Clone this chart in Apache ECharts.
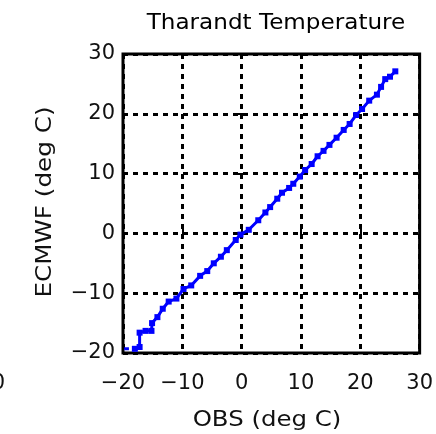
<!DOCTYPE html>
<html>
<head>
<meta charset="utf-8">
<script src="https://cdn.jsdelivr.net/npm/echarts@6/dist/echarts.min.js"></script>
<style>html,body{margin:0;padding:0;background:#fff}#c{width:436px;height:434px}</style>
</head>
<body>
<div id="c"></div>
<script>
const titleText = 'Tharandt Temperature';
const xName = 'OBS (deg C)';
const yName = 'ECMWF (deg C)';
const xTicks = [-20, -10, 0, 10, 20, 30];
const yTicks = [-20, -10, 0, 10, 20, 30];
// isolated low fragment
const lowObs = [-19.8, -19.0];
const lowEcm = [-19.3, -19.3];
// main sorted OBS vs ECMWF trace
const obs = [-18.0,-17.2,-17.2,-16.2,-15.2,-15.1,-14.2,-13.3,-12.3,-11.0,-9.8,-8.5,-7.0,-5.8,-4.7,-3.5,-2.5,-1.0,-0.2,1.2,2.8,4.0,4.8,6.0,6.8,8.0,8.7,9.8,10.7,11.8,12.8,13.8,14.8,16.0,17.2,18.2,19.3,20.3,21.5,22.8,23.5,24.2,25.0,25.9];
const ecm = [-19.3,-19.0,-16.6,-16.3,-16.3,-15.0,-14.0,-12.6,-11.4,-10.9,-9.3,-8.7,-7.1,-6.3,-5.0,-3.9,-2.8,-1.1,-0.2,0.6,2.2,3.5,4.4,5.8,6.8,7.6,8.3,9.5,10.6,11.6,12.9,13.8,14.8,16.0,17.3,18.3,19.8,20.8,22.2,23.2,24.5,25.8,26.2,27.1];

const font = 'DejaVu Sans, Verdana, sans-serif';
const txt = '#111';
const chart = echarts.init(document.getElementById('c'), null, {renderer: 'canvas'});
const gridLine = {show: true, lineStyle: {color: '#000', width: 3, type: [5, 5]}};
const baseAxis = {
  type: 'value', min: -20, max: 30, interval: 10,
  axisLine: {show: false},
  axisTick: {show: true, inside: true, length: 5, lineStyle: {color: '#000', width: 2}},
};
chart.setOption({
  animation: false,
  backgroundColor: '#fff',
  grid: {left: 123, top: 54, width: 300, height: 299, show: true, borderColor: '#000', borderWidth: 3, backgroundColor: '#fff'},
  graphic: [
    {type: 'text', right: 431, top: 373, style: {text: '30', font: '21px ' + font, fill: txt}},
    {type: 'text', x: 276, y: 23, scaleX: 1.05,
      style: {text: titleText, font: '22px ' + font, fill: '#000', textAlign: 'center', textVerticalAlign: 'middle'}},
    {type: 'text', x: 267, y: 420, scaleX: 1.11,
      style: {text: xName, font: '22px ' + font, fill: txt, textAlign: 'center', textVerticalAlign: 'middle'}},
    {type: 'text', x: 45, y: 202, rotation: Math.PI / 2, scaleX: 1.12,
      style: {text: yName, font: '22px ' + font, fill: txt, textAlign: 'center', textVerticalAlign: 'middle'}}
  ],
  xAxis: [
    Object.assign({}, baseAxis, {position: 'bottom',
      axisLabel: {fontFamily: font, fontSize: 21, color: txt, margin: 20,
        formatter: v => xTicks.includes(v) ? String(v).replace('-', '\u2212') : ''},
      splitLine: gridLine}),
    Object.assign({}, baseAxis, {position: 'top', axisLabel: {show: false}, splitLine: {show: false}})
  ],
  yAxis: [
    Object.assign({}, baseAxis, {position: 'left',
      axisLabel: {fontFamily: font, fontSize: 21, color: txt, margin: 8,
        formatter: v => yTicks.includes(v) ? String(v).replace('-', '\u2212') : ''},
      splitLine: gridLine}),
    Object.assign({}, baseAxis, {position: 'right', axisLabel: {show: false}, splitLine: {show: false}})
  ],
  series: [
    {type: 'line', data: lowObs.map((v, i) => [v, lowEcm[i]]), showSymbol: false,
      lineStyle: {color: '#0000ff', width: 3}},
    {type: 'line', data: obs.map((v, i) => [v, ecm[i]]), symbol: 'rect', symbolSize: 6, showSymbol: true,
      itemStyle: {color: '#0000ff'}, lineStyle: {color: '#0000ff', width: 3}}
  ]
});
</script>
</body>
</html>
